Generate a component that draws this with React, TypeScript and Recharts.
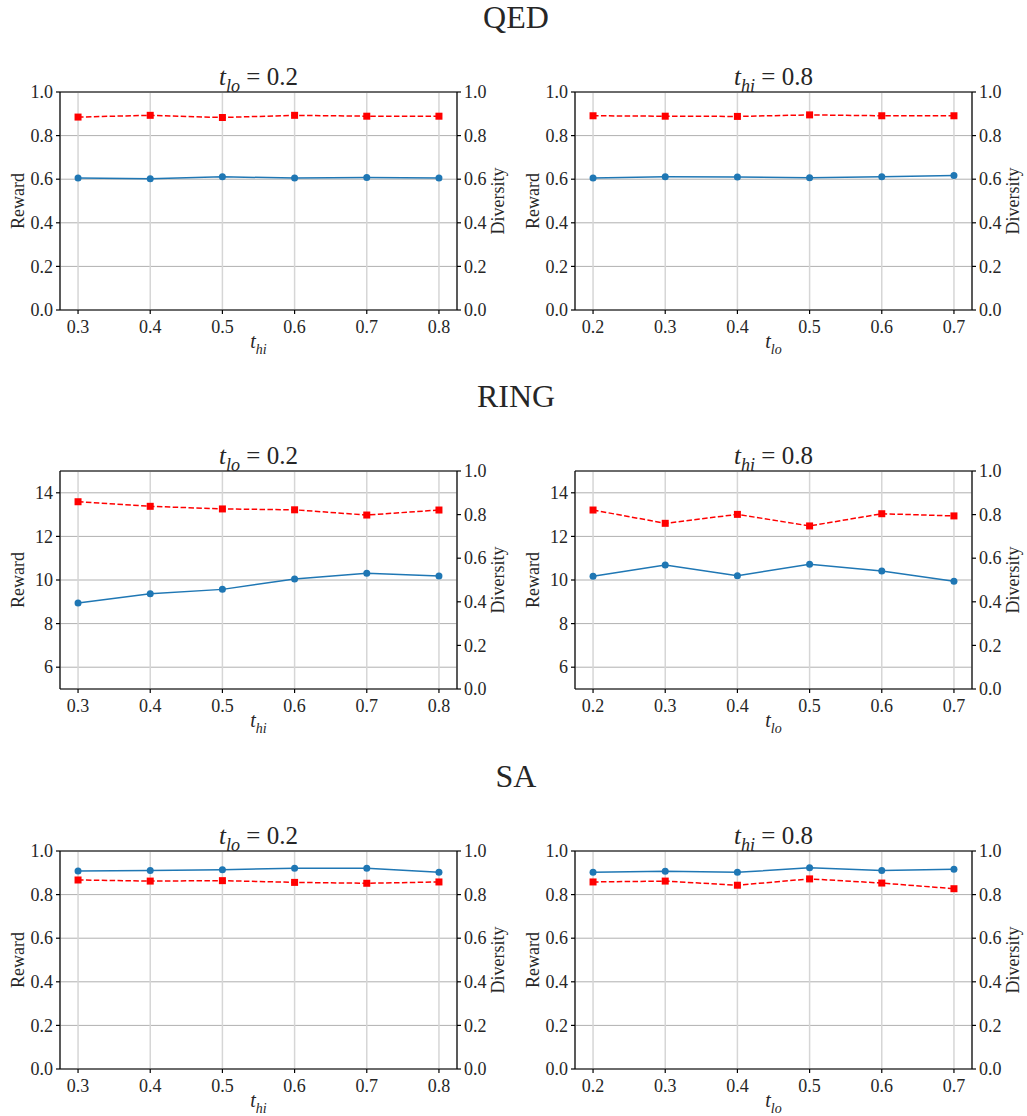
import React from "react";
import {
  CartesianGrid,
  ComposedChart,
  Line,
  ReferenceLine,
  XAxis,
  YAxis,
} from "recharts";

// x values
const tHiValues = [0.3, 0.4, 0.5, 0.6, 0.7, 0.8];
const tLoValues = [0.2, 0.3, 0.4, 0.5, 0.6, 0.7];

// QED
const qedLoReward = [0.605, 0.602, 0.611, 0.605, 0.608, 0.605];
const qedLoDiversity = [0.885, 0.893, 0.883, 0.893, 0.889, 0.889];
const qedHiReward = [0.605, 0.611, 0.61, 0.607, 0.611, 0.617];
const qedHiDiversity = [0.891, 0.889, 0.888, 0.895, 0.891, 0.891];

// RING
const ringLoReward = [8.94, 9.37, 9.57, 10.05, 10.31, 10.18];
const ringLoDiversity = [0.859, 0.838, 0.826, 0.822, 0.798, 0.821];
const ringHiReward = [10.17, 10.69, 10.2, 10.72, 10.41, 9.94];
const ringHiDiversity = [0.821, 0.76, 0.801, 0.748, 0.804, 0.794];

// SA
const saLoReward = [0.908, 0.91, 0.914, 0.921, 0.921, 0.902];
const saLoDiversity = [0.867, 0.862, 0.864, 0.856, 0.852, 0.858];
const saHiReward = [0.902, 0.907, 0.902, 0.923, 0.911, 0.916];
const saHiDiversity = [0.858, 0.862, 0.843, 0.872, 0.853, 0.827];

const unitTicks = [0, 0.2, 0.4, 0.6, 0.8, 1.0];
const ringRewardTicks = [6, 8, 10, 12, 14];

const sections = ["QED", "RING", "SA"];

const FONT = "Liberation Serif";
const TXT = "#262626";
const BLUE = "#1f77b4";
const RED = "#ff0000";

const ROW_TOP = [92, 471, 851];
const COL_LEFT = [0, 515];
const PLOT_H = 218;

// tick label drawn as plain svg text so the serif font sticks
function Tick(props: any) {
  const { x, y, payload, textAnchor, verticalAnchor, tickFormatter, index } = props;
  const label = tickFormatter ? tickFormatter(payload.value, index) : String(payload.value);
  const dy = verticalAnchor === "start" ? "0.75em" : verticalAnchor === "end" ? "0" : "0.34em";
  return (
    <text
      x={x}
      y={y}
      dy={dy}
      textAnchor={textAnchor}
      fontFamily={FONT}
      fontSize={18}
      fill={TXT}
    >
      {label}
    </text>
  );
}

function Square(props: any) {
  const { cx, cy, index } = props;
  if (cx == null || cy == null) return <g key={index} />;
  return <rect key={index} x={cx - 3.5} y={cy - 3.5} width={7} height={7} fill={RED} />;
}

function Panel({
  xs,
  reward,
  diversity,
  xDomain,
  rewardDomain,
  rewardTicks,
  intReward,
}: {
  xs: number[];
  reward: number[];
  diversity: number[];
  xDomain: [number, number];
  rewardDomain: [number, number];
  rewardTicks: number[];
  intReward?: boolean;
}) {
  const data = xs.map((x, i) => ({ x, reward: reward[i], diversity: diversity[i] }));
  return (
    <ComposedChart
      width={515}
      height={30 + PLOT_H + 55}
      data={data}
      margin={{ top: 30, right: 8, bottom: 0, left: 10 }}
    >
      <CartesianGrid yAxisId="L" vertical={false} stroke="#b0b0b0" strokeWidth={1} />
      <CartesianGrid yAxisId="L" horizontal={false} stroke="#d6d6d6" strokeWidth={1.5} />
      <XAxis
        dataKey="x"
        type="number"
        domain={xDomain}
        ticks={xs}
        tickFormatter={(v: number) => v.toFixed(1)}
        height={55}
        tick={<Tick />}
        tickSize={4}
        tickMargin={5}
        stroke="#000"
        strokeWidth={1.2}
        allowDataOverflow
      />
      <YAxis
        yAxisId="L"
        domain={rewardDomain}
        ticks={rewardTicks}
        tickFormatter={(v: number) => (intReward ? String(v) : v.toFixed(1))}
        width={50}
        tick={<Tick />}
        tickSize={4}
        tickMargin={3}
        stroke="#000"
        strokeWidth={1.2}
        allowDataOverflow
      />
      <YAxis
        yAxisId="R"
        orientation="right"
        domain={[0, 1]}
        ticks={unitTicks}
        tickFormatter={(v: number) => v.toFixed(1)}
        width={50}
        tick={<Tick />}
        tickSize={4}
        tickMargin={3}
        stroke="#000"
        strokeWidth={1.2}
        allowDataOverflow
      />
      <ReferenceLine yAxisId="L" y={rewardDomain[1]} stroke="#000" strokeWidth={1.2} />
      <Line
        yAxisId="L"
        dataKey="reward"
        stroke={BLUE}
        strokeWidth={1.5}
        dot={{ r: 3.5, fill: BLUE, stroke: BLUE, strokeWidth: 0 }}
        isAnimationActive={false}
      />
      <Line
        yAxisId="R"
        dataKey="diversity"
        stroke={RED}
        strokeWidth={1.5}
        strokeDasharray="5.5 2.4"
        dot={<Square />}
        isAnimationActive={false}
      />
    </ComposedChart>
  );
}

function MathT({ sub, size, x, y, suffix }: { sub: string; size: number; x: number; y: number; suffix?: string }) {
  const s = Math.round(size * 0.7);
  const d = Math.round(size * 0.28);
  return (
    <text x={x} y={y} textAnchor="middle" fontFamily={FONT} fontSize={size} fill={TXT}>
      <tspan fontStyle="italic">t</tspan>
      <tspan fontStyle="italic" fontSize={s} dy={d}>
        {sub}
      </tspan>
      {suffix ? <tspan dy={-d}>{suffix}</tspan> : null}
    </text>
  );
}

export default function App() {
  const panels = [
    [
      { xs: tHiValues, r: qedLoReward, d: qedLoDiversity },
      { xs: tLoValues, r: qedHiReward, d: qedHiDiversity },
    ],
    [
      { xs: tHiValues, r: ringLoReward, d: ringLoDiversity },
      { xs: tLoValues, r: ringHiReward, d: ringHiDiversity },
    ],
    [
      { xs: tHiValues, r: saLoReward, d: saLoDiversity },
      { xs: tLoValues, r: saHiReward, d: saHiDiversity },
    ],
  ];

  return (
    <div
      style={{
        position: "absolute",
        left: 0,
        top: 0,
        width: 1027,
        height: 1116,
        background: "#fff",
        fontFamily: FONT,
        overflow: "hidden",
      }}
    >
      {panels.map((row, ri) =>
        row.map((p, ci) => {
          const isRing = ri === 1;
          const xDomain: [number, number] = ci === 0 ? [0.275, 0.825] : [0.175, 0.725];
          return (
            <div
              key={`${ri}-${ci}`}
              style={{ position: "absolute", left: COL_LEFT[ci], top: ROW_TOP[ri] - 30 }}
            >
              <Panel
                xs={p.xs}
                reward={p.r}
                diversity={p.d}
                xDomain={xDomain}
                rewardDomain={isRing ? [5, 15] : [0, 1]}
                rewardTicks={isRing ? ringRewardTicks : unitTicks}
                intReward={isRing}
              />
            </div>
          );
        })
      )}
      <svg
        width={1027}
        height={1116}
        style={{ position: "absolute", left: 0, top: 0, pointerEvents: "none" }}
      >
        {sections.map((s, ri) => (
          <text
            key={s}
            x={516}
            y={ROW_TOP[ri] - 64}
            textAnchor="middle"
            fontFamily={FONT}
            fontSize={32}
            fill={TXT}
          >
            {s}
          </text>
        ))}
        {ROW_TOP.map((top, ri) =>
          COL_LEFT.map((left, ci) => {
            const cx = left + 258.5;
            const cy = top + PLOT_H / 2;
            return (
              <g key={`t-${ri}-${ci}`}>
                <MathT
                  sub={ci === 0 ? "lo" : "hi"}
                  suffix={ci === 0 ? " = 0.2" : " = 0.8"}
                  size={25}
                  x={cx}
                  y={top - 7}
                />
                <MathT sub={ci === 0 ? "hi" : "lo"} size={20} x={cx} y={top + PLOT_H + 38} />
                <text
                  x={left + 18}
                  y={cy}
                  transform={`rotate(-90 ${left + 18} ${cy})`}
                  textAnchor="middle"
                  dominantBaseline="central"
                  fontFamily={FONT}
                  fontSize={18}
                  fill={TXT}
                >
                  Reward
                </text>
                <text
                  x={left + 498}
                  y={cy}
                  transform={`rotate(-90 ${left + 498} ${cy})`}
                  textAnchor="middle"
                  dominantBaseline="central"
                  fontFamily={FONT}
                  fontSize={18}
                  fill={TXT}
                >
                  Diversity
                </text>
              </g>
            );
          })
        )}
      </svg>
    </div>
  );
}
